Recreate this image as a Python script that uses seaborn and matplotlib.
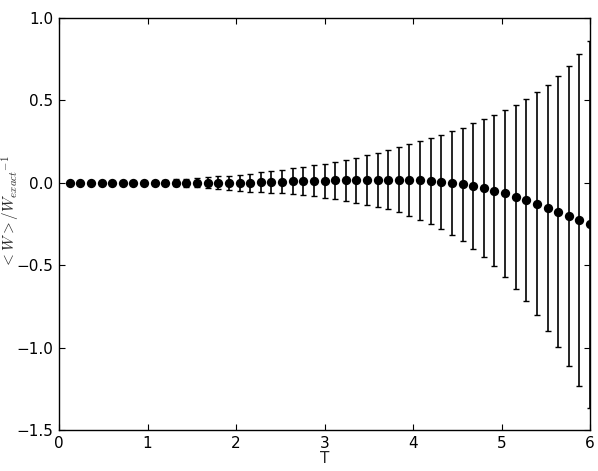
import numpy as np
import pandas as pd
import seaborn as sns
import matplotlib
matplotlib.use("Agg")
import matplotlib.pyplot as plt

# temperatures, step 0.12
T = [0.12, 0.24, 0.36, 0.48, 0.60, 0.72, 0.84, 0.96, 1.08, 1.20,
     1.32, 1.44, 1.56, 1.68, 1.80, 1.92, 2.04, 2.16, 2.28, 2.40,
     2.52, 2.64, 2.76, 2.88, 3.00, 3.12, 3.24, 3.36, 3.48, 3.60,
     3.72, 3.84, 3.96, 4.08, 4.20, 4.32, 4.44, 4.56, 4.68, 4.80,
     4.92, 5.04, 5.16, 5.28, 5.40, 5.52, 5.64, 5.76, 5.88, 6.00]

# relative deviation <W>/W_exact - 1
dev = [0.0, 0.0, 0.0, 0.0, 0.0, 0.0, 0.0, 0.0, 0.0, 0.0,
       0.0, 0.0, 0.0, 0.0, 0.0, 0.0, 0.0, 0.0, 0.002, 0.004,
       0.006, 0.008, 0.010, 0.012, 0.012, 0.014, 0.014, 0.016, 0.018, 0.018,
       0.018, 0.018, 0.018, 0.014, 0.010, 0.004, -0.002, -0.010, -0.021, -0.033,
       -0.049, -0.065, -0.085, -0.106, -0.128, -0.152, -0.176, -0.203, -0.227, -0.253]

# error bar half widths
err = [0.001, 0.002, 0.002, 0.003, 0.004, 0.005, 0.007, 0.009, 0.011, 0.014,
       0.020, 0.024, 0.028, 0.033, 0.038, 0.042, 0.048, 0.054, 0.061, 0.066,
       0.071, 0.079, 0.086, 0.094, 0.104, 0.114, 0.124, 0.137, 0.150, 0.164,
       0.180, 0.197, 0.217, 0.238, 0.260, 0.285, 0.314, 0.345, 0.381, 0.418,
       0.458, 0.506, 0.557, 0.613, 0.677, 0.745, 0.823, 0.911, 1.008, 1.113]

df = pd.DataFrame({"T": T, "dev": dev, "err": err})

sns.set_style("ticks")
plt.rcParams["mathtext.fontset"] = "cm"

fig = plt.figure(figsize=(5.98, 4.71), dpi=100)
ax = fig.add_axes([0.0987, 0.087, 0.888, 0.875])

ax.errorbar(df["T"], df["dev"], yerr=df["err"], fmt="none", ecolor="black",
            elinewidth=1.2, capsize=2.5, capthick=1.0, zorder=2)
sns.scatterplot(data=df, x="T", y="dev", ax=ax, color="black", s=45,
                edgecolor="black", linewidth=0, zorder=3)

ax.set_xlim(0, 6)
ax.set_ylim(-1.5, 1.0)
ax.set_xticks([0, 1, 2, 3, 4, 5, 6])
ax.set_yticks([-1.5, -1.0, -0.5, 0.0, 0.5, 1.0])
ax.tick_params(direction="in", top=True, right=True, length=4, width=0.8,
               labelsize=11, pad=4, colors="black")
for s in ax.spines.values():
    s.set_linewidth(1.0)
    s.set_color("black")

ax.set_xlabel("T", fontsize=11, labelpad=0)
ax.set_ylabel(r"${<}W{>}/{W_{exact}}^{-1}$", fontsize=11)
ax.yaxis.set_label_coords(-0.07, 0.53)

fig.savefig("out.png", dpi=100)
